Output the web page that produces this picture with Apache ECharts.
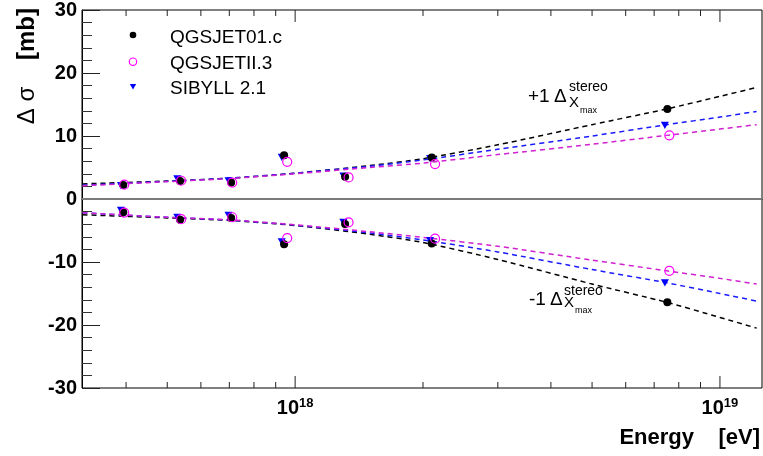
<!DOCTYPE html>
<html>
<head>
<meta charset="utf-8">
<script src="https://cdn.jsdelivr.net/npm/echarts@6/dist/echarts.min.js"></script>
<style>html,body{margin:0;padding:0;background:#fff}#c{width:763px;height:456px}</style>
</head>
<body>
<div id="c"></div>
<script>
// ---- data ----
const energy01  = [3.94e17, 5.36e17, 7.07e17, 9.42e17, 1.311e18, 2.097e18, 7.52e18];
const up01      = [2.24, 2.87, 2.6, 6.96, 3.55, 6.6, 14.3];
const down01    = [-2.1, -3.3, -3.0, -7.2, -3.97, -7.05, -16.4];
const energyII  = [3.96e17, 5.39e17, 7.11e17, 9.58e17, 1.336e18, 2.135e18, 7.60e18];
const upII      = [2.28, 2.9, 2.6, 5.9, 3.43, 5.55, 10.1];
const downII    = [-2.15, -3.2, -2.9, -6.2, -3.7, -6.3, -11.4];
const energySib = [3.89e17, 5.28e17, 6.97e17, 9.3e17, 1.299e18, 2.078e18, 7.42e18];
const upSib     = [2.13, 3.2, 2.87, 6.6, 3.65, 6.4, 11.7];
const downSib   = [-1.8, -2.9, -2.6, -6.8, -3.7, -6.6, -13.3];

const fitE       = [3.16e17, 5e17, 7e17, 1e18, 1.5e18, 2e18, 3e18, 5e18, 7.5e18, 1e19, 1.22e19];
const fitUp01    = [2.4, 2.85, 3.3, 4.1, 5.3, 6.4, 8.6, 11.8, 14.3, 16.3, 17.7];
const fitUpSib   = [2.2, 2.8, 3.3, 4.1, 5.2, 6.2, 7.9, 10.0, 11.8, 13.0, 13.9];
const fitUpII    = [2.1, 2.75, 3.25, 4.0, 5.0, 5.7, 7.05, 8.7, 10.1, 11.1, 11.8];
const fitDown01  = [-2.5, -3.0, -3.4, -4.2, -5.6, -6.9, -9.6, -13.5, -16.4, -18.8, -20.5];
const fitDownSib = [-2.2, -2.9, -3.35, -4.15, -5.4, -6.5, -8.4, -11.2, -13.3, -15.0, -16.2];
const fitDownII  = [-2.2, -2.9, -3.3, -4.1, -5.2, -6.1, -7.5, -9.7, -11.4, -12.6, -13.5];

const seriesNames = ['QGSJET01.c', 'QGSJETII.3', 'SIBYLL 2.1'];
const xMin = 3.15e17, xMax = 1.256e19;
const yMin = -30, yMax = 30;
const xMajorTicks = [1e18, 1e19];
const xMinorTicks = [4e17, 5e17, 6e17, 7e17, 8e17, 9e17, 2e18, 3e18, 4e18, 5e18, 6e18, 7e18, 8e18, 9e18];

// ---- build ----
const FONT = '"Liberation Sans", Arial, Helvetica, sans-serif';
const pairs = (xs, ys) => xs.map((x, i) => [x, ys[i]]);
const both = (xs, a, b) => pairs(xs, a).concat(pairs(xs, b));
const tickData = xMajorTicks.map(v => [v, 1]).concat(xMinorTicks.map(v => [v, 0]));
const dashed = (name, color, data) => ({
  name: name, type: 'line', data: data, showSymbol: false, smooth: 0.25, z: 3,
  lineStyle: { color: color, width: 1.5, type: [5, 4] }, silent: true
});
const TRI = 'path://M0,0L10,0L5,9Z';

const chart = echarts.init(document.getElementById('c'), null, { renderer: 'canvas' });
chart.setOption({
  animation: false,
  backgroundColor: '#fff',
  grid: { left: 82, right: 1, top: 7, bottom: 68, show: true, borderColor: '#000', borderWidth: 1 },
  xAxis: {
    type: 'log', logBase: 10, min: xMin, max: xMax,
    axisLine: { show: true, lineStyle: { color: '#000', width: 1 } },
    axisTick: { show: false }, splitLine: { show: false },
    axisLabel: {
      margin: 9, showMinLabel: false, showMaxLabel: false,
      formatter: function (v) {
        const l = Math.log10(v);
        if (Math.abs(l - Math.round(l)) > 1e-6) return '';
        return '{b|10}{s|' + Math.round(l) + '}';
      },
      rich: {
        b: { fontFamily: FONT, fontWeight: 'bold', fontSize: 20, color: '#000', lineHeight: 22 },
        s: { fontFamily: FONT, fontWeight: 'bold', fontSize: 13, color: '#000', verticalAlign: 'top', lineHeight: 13 }
      }
    }
  },
  yAxis: {
    type: 'value', min: yMin, max: yMax, interval: 10,
    axisLine: { show: true, lineStyle: { color: '#000', width: 1 } },
    axisTick: { show: true, inside: true, length: 18, lineStyle: { color: '#222', width: 1 } },
    minorTick: { show: true, splitNumber: 5, length: 10, lineStyle: { color: '#333', width: 1 } },
    splitLine: { show: false },
    axisLabel: { margin: 5, fontFamily: FONT, fontWeight: 'bold', fontSize: 20, color: '#000' }
  },
  series: [
    { // zero line
      name: 'zero', type: 'line', data: [], silent: true, z: 1,
      markLine: { silent: true, symbol: 'none', label: { show: false },
        lineStyle: { color: '#7a7a7a', width: 2, type: 'solid' }, data: [{ yAxis: 0 }] }
    },
    { // x-axis ticks (bottom + top)
      name: 'xticks', type: 'custom', data: tickData, encode: { x: 0, y: 1 }, silent: true, z: 2,
      renderItem: function (params, api) {
        const v = api.value(0), major = api.value(1);
        const pb = api.coord([v, yMin]), pt = api.coord([v, yMax]);
        const len = major ? 12 : 6;
        const st = { stroke: '#222', lineWidth: 1 };
        return { type: 'group', children: [
          { type: 'line', shape: { x1: pb[0], y1: pb[1], x2: pb[0], y2: pb[1] - len }, style: st },
          { type: 'line', shape: { x1: pt[0], y1: pt[1], x2: pt[0], y2: pt[1] + len }, style: st }
        ] };
      }
    },
    dashed('fitUp01', '#000000', pairs(fitE, fitUp01)),
    dashed('fitDown01', '#000000', pairs(fitE, fitDown01)),
    dashed('fitUpSib', '#1a1aff', pairs(fitE, fitUpSib)),
    dashed('fitDownSib', '#1a1aff', pairs(fitE, fitDownSib)),
    dashed('fitUpII', '#d020d0', pairs(fitE, fitUpII)),
    dashed('fitDownII', '#d020d0', pairs(fitE, fitDownII)),
    {
      name: seriesNames[2], type: 'scatter', z: 4,
      symbol: TRI, symbolKeepAspect: true, symbolSize: 8,
      itemStyle: { color: '#0000ff', opacity: 1 },
      data: both(energySib, upSib, downSib)
    },
    {
      name: seriesNames[0], type: 'scatter', z: 5,
      symbol: 'circle', symbolSize: 8,
      itemStyle: { color: '#000000', opacity: 1 },
      data: both(energy01, up01, down01)
    },
    {
      name: seriesNames[1], type: 'scatter', z: 6,
      symbol: 'circle', symbolSize: 9,
      itemStyle: { color: 'rgba(255,255,255,0)', borderColor: '#ff00ff', borderWidth: 1.2, opacity: 1 },
      data: both(energyII, upII, downII)
    }
  ],
  graphic: [
    // legend
    { type: 'circle', silent: true, shape: { cx: 133, cy: 35, r: 3.3 }, style: { fill: '#000' } },
    { type: 'circle', silent: true, shape: { cx: 133, cy: 61.7, r: 3.7 }, style: { fill: 'none', stroke: '#ff00ff', lineWidth: 1.2 } },
    { type: 'polygon', silent: true, shape: { points: [[129.8, 84], [136.2, 84], [133, 89.5]] }, style: { fill: '#0000ff' } },
    { type: 'text', x: 170, y: 38, silent: true, style: { text: seriesNames[0], font: '19px ' + FONT, fill: '#000', verticalAlign: 'middle' } },
    { type: 'text', x: 170, y: 63.5, silent: true, style: { text: seriesNames[1], font: '19px ' + FONT, fill: '#000', verticalAlign: 'middle' } },
    { type: 'text', x: 170, y: 89, silent: true, style: { text: seriesNames[2], font: '19px ' + FONT, fill: '#000', verticalAlign: 'middle' } },
    // axis titles
    { type: 'text', x: 27, y: 8, rotation: Math.PI / 2, silent: true,
      style: { text: '{n|Δ σ}{n|    }{b|[mb]}', align: 'right', verticalAlign: 'middle',
        rich: { n: { fontFamily: FONT, fontSize: 24, color: '#000' },
                b: { fontFamily: FONT, fontSize: 24, fontWeight: 'bold', color: '#000' } } } },
    { type: 'text', right: 3, top: 427, silent: true,
      style: { text: 'Energy    [eV]', font: 'bold 22px ' + FONT, fill: '#000' } },
    // +1 annotation
    { type: 'text', x: 528, y: 96.5, silent: true, style: { text: '+1', font: '19px ' + FONT, fill: '#000', verticalAlign: 'middle' } },
    { type: 'text', x: 554, y: 96.5, silent: true, style: { text: 'Δ', font: '19px ' + FONT, fill: '#000', verticalAlign: 'middle' } },
    { type: 'text', x: 569, y: 87.5, silent: true, style: { text: 'stereo', font: '14px ' + FONT, fill: '#000', verticalAlign: 'middle' } },
    { type: 'text', x: 569, y: 103, silent: true, style: { text: 'X', font: '15px ' + FONT, fill: '#000', verticalAlign: 'middle' } },
    { type: 'text', x: 580, y: 110.5, silent: true, style: { text: 'max', font: '9px ' + FONT, fill: '#000', verticalAlign: 'middle' } },
    // -1 annotation
    { type: 'text', x: 529, y: 300, silent: true, style: { text: '-1', font: '19px ' + FONT, fill: '#000', verticalAlign: 'middle' } },
    { type: 'text', x: 550, y: 300, silent: true, style: { text: 'Δ', font: '19px ' + FONT, fill: '#000', verticalAlign: 'middle' } },
    { type: 'text', x: 564, y: 291.5, silent: true, style: { text: 'stereo', font: '14px ' + FONT, fill: '#000', verticalAlign: 'middle' } },
    { type: 'text', x: 564, y: 303, silent: true, style: { text: 'X', font: '15px ' + FONT, fill: '#000', verticalAlign: 'middle' } },
    { type: 'text', x: 575, y: 310.5, silent: true, style: { text: 'max', font: '9px ' + FONT, fill: '#000', verticalAlign: 'middle' } }
  ]
});
</script>
</body>
</html>
